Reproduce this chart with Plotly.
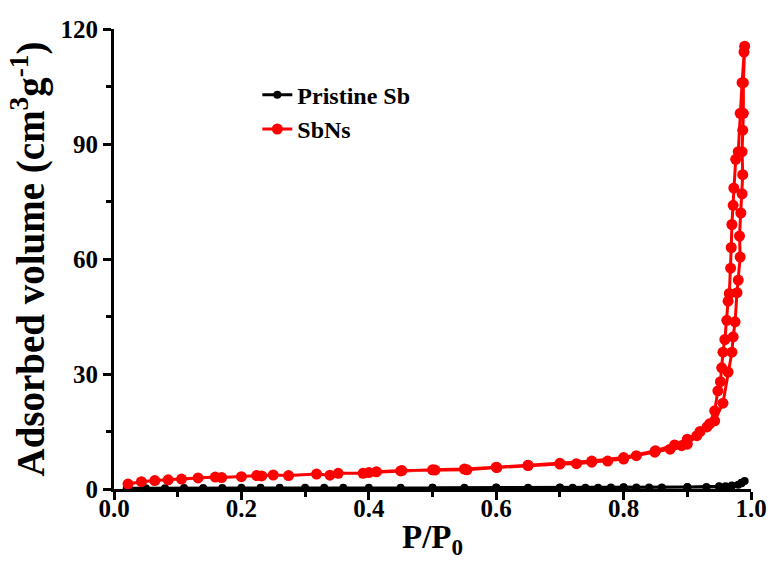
import plotly.graph_objects as go

# SbNs adsorption branch
sbns_ads_p = [0.022, 0.043, 0.064, 0.085, 0.106, 0.132, 0.159, 0.169, 0.200, 0.224, 0.232, 0.250, 0.274,
              0.318, 0.339, 0.352, 0.391, 0.412, 0.452, 0.504, 0.554, 0.601, 0.650, 0.700, 0.726, 0.750,
              0.775, 0.800, 0.820, 0.849, 0.873, 0.891, 0.900, 0.915, 0.931, 0.943, 0.956, 0.964, 0.970,
              0.972, 0.975, 0.978, 0.980, 0.983, 0.982, 0.984, 0.986, 0.987, 0.986, 0.987, 0.988, 0.988, 0.989]
sbns_ads_v = [1.3, 1.9, 2.2, 2.4, 2.6, 2.9, 3.1, 3.0, 3.2, 3.5, 3.4, 3.65, 3.5,
              3.9, 3.6, 4.1, 4.1, 4.5, 4.8, 4.95, 5.0, 5.6, 6.1, 6.5, 6.6, 7.0,
              7.3, 7.8, 8.7, 9.6, 10.4, 11.3, 11.7, 13.9, 16.2, 17.8, 22.4, 30.5, 35.7,
              39.7, 43.6, 51.2, 54.5, 60.5, 66.0, 72.0, 77.0, 82.0, 88.0, 93.6, 98.0, 106.0, 114.0]
# SbNs desorption branch
sbns_des_p = [0.990, 0.986, 0.983, 0.980, 0.976, 0.973, 0.972, 0.970, 0.969, 0.968, 0.966, 0.964, 0.962,
              0.959, 0.956, 0.954, 0.952, 0.948, 0.943, 0.935, 0.920, 0.900, 0.880, 0.850, 0.800, 0.750,
              0.700, 0.650, 0.600, 0.550, 0.500, 0.450, 0.400]
sbns_des_v = [115.5, 106.0, 98.0, 88.0, 86.0, 78.5, 74.0, 69.0, 63.0, 57.6, 51.0, 49.0, 44.0,
              39.0, 35.7, 31.6, 28.0, 25.6, 20.4, 17.0, 15.0, 13.0, 11.5, 10.0, 8.2, 7.3,
              6.7, 6.2, 5.7, 5.2, 5.0, 4.7, 4.3]

# Pristine Sb
pris_p = [0.02, 0.05, 0.08, 0.11, 0.14, 0.17, 0.20, 0.23, 0.26, 0.30, 0.33, 0.36, 0.40, 0.45, 0.50,
          0.55, 0.60, 0.65, 0.70, 0.72, 0.74, 0.76, 0.78, 0.80, 0.82, 0.84, 0.86, 0.90, 0.93, 0.95,
          0.96, 0.97, 0.98, 0.985, 0.99, 0.985, 0.97, 0.95, 0.90, 0.80, 0.70, 0.60, 0.50]
pris_v = [0.2, 0.2, 0.2, 0.25, 0.25, 0.25, 0.3, 0.3, 0.3, 0.3, 0.3, 0.3, 0.35, 0.35, 0.35,
          0.35, 0.35, 0.35, 0.35, 0.35, 0.35, 0.35, 0.4, 0.4, 0.4, 0.4, 0.4, 0.45, 0.5, 0.6,
          0.7, 0.8, 1.1, 1.5, 2.1, 1.6, 0.9, 0.7, 0.5, 0.45, 0.4, 0.4, 0.35]

x_ticks = [0.0, 0.2, 0.4, 0.6, 0.8, 1.0]
x_ticklabels = ["0.0", "0.2", "0.4", "0.6", "0.8", "1.0"]
y_ticks = [0, 30, 60, 90, 120]
y_ticklabels = ["0", "30", "60", "90", "120"]

font_family = "Liberation Serif"

fig = go.Figure()
fig.add_trace(go.Scatter(x=pris_p, y=pris_v, mode="lines+markers", name="Pristine Sb",
                         line=dict(color="black", width=3), marker=dict(color="black", size=8)))
fig.add_trace(go.Scatter(x=sbns_ads_p + sbns_des_p, y=sbns_ads_v + sbns_des_v, mode="lines+markers",
                         name="SbNs",
                         line=dict(color="#ff0000", width=3), marker=dict(color="#ff0000", size=11)))

axis_common = dict(showgrid=False, zeroline=False, showline=True, linecolor="black", linewidth=3,
                   ticks="outside", ticklen=8, tickwidth=3, tickcolor="black", automargin=False,
                   tickfont=dict(family=font_family, size=25, color="black", weight="bold"))

fig.update_layout(
    width=771, height=576,
    paper_bgcolor="white", plot_bgcolor="white",
    margin=dict(l=114, r=20, t=29, b=87, autoexpand=False),
    showlegend=True,
    legend=dict(x=0.225, y=0.905, xanchor="left", yanchor="top", bgcolor="rgba(0,0,0,0)",
                font=dict(family=font_family, size=24, color="black", weight="bold"), tracegroupgap=0),
    xaxis=dict(range=[0, 1.0], tickvals=x_ticks, ticktext=x_ticklabels, ticklabelstandoff=-13,
               minor=dict(ticks="outside", ticklen=5, tickwidth=3, tickcolor="black", dtick=0.1),
               title=dict(text="P/P<sub>0</sub>",
                          font=dict(family=font_family, size=33, color="black", weight="bold"),
                          standoff=4),
               **axis_common),
    yaxis=dict(range=[0, 120], tickvals=y_ticks, ticktext=y_ticklabels,
               minor=dict(ticks="outside", ticklen=5, tickwidth=3, tickcolor="black", dtick=15),
               title=dict(text="Adsorbed volume (cm<sup>3</sup>g<sup>-1</sup>)",
                          font=dict(family=font_family, size=39, color="black", weight="bold"),
                          standoff=4),
               **axis_common),
)

fig.write_html("out.html", config={"displayModeBar": False},
               post_script="document.body.style.margin='0';document.body.style.overflow='hidden';")
